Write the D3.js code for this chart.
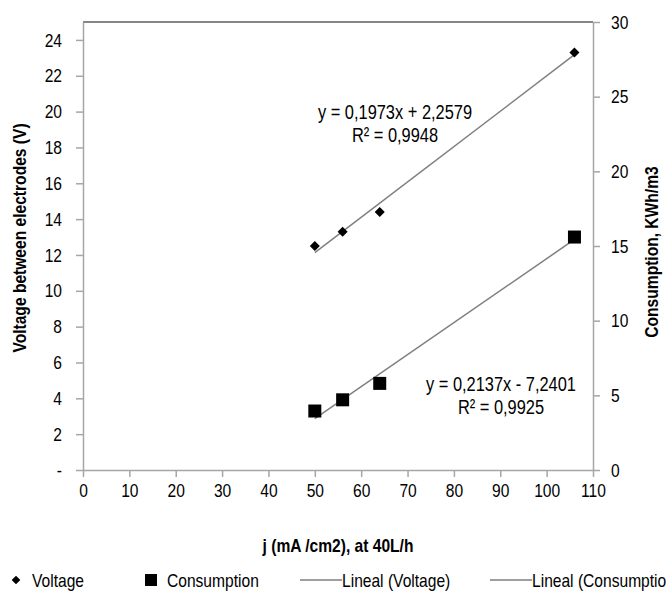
<!DOCTYPE html>
<html>
<head>
<meta charset="utf-8">
<script src="https://cdn.jsdelivr.net/npm/d3@7"></script>
<style>
  body { margin: 0; background: #fff; }
  text { font-family: "Liberation Sans Narrow", "Arial Narrow", "Liberation Sans", sans-serif; fill: #000; }
</style>
</head>
<body>
<script>
// chart data
const currentDensity = [50, 56, 64, 106];          // j (mA/cm2)
const voltage = [12.5, 13.3, 14.4, 23.3];           // V
const consumption = [3.95, 4.7, 5.8, 15.6];         // KWh/m3
const xTicks = [0, 10, 20, 30, 40, 50, 60, 70, 80, 90, 100, 110];
const leftTicks = [0, 2, 4, 6, 8, 10, 12, 14, 16, 18, 20, 22, 24];
const rightTicks = [0, 5, 10, 15, 20, 25, 30];
const eqVoltage = ['y = 0,1973x  + 2,2579', 'R² = 0,9948'];
const eqConsumption = ['y = 0,2137x - 7,2401', 'R² = 0,9925'];

const width = 666;
const height = 599;
const margin = { top: 22, right: 73, bottom: 129, left: 83 };

const svg = d3.select('body')
  .append('svg')
  .attr('width', width)
  .attr('height', height);

const x = d3.scaleLinear().domain([0, 110]).range([margin.left, width - margin.right]);
const yLeft = d3.scaleLinear().domain([0, 25]).range([height - margin.bottom, margin.top]);
const yRight = d3.scaleLinear().domain([0, 30]).range([height - margin.bottom, margin.top]);

const axisColor = '#a6a6a6';
const fontSize = 19;

// the reference uses a narrow font, squeeze the regular one when no narrow face is there
const narrowAvailable = (() => {
  const probe = svg.append('text').attr('font-size', 20).text('Consumption');
  const a = probe.node().getComputedTextLength();
  probe.style('font-family', '"Liberation Sans", sans-serif');
  const b = probe.node().getComputedTextLength();
  probe.remove();
  return a < b * 0.95;
})();

function condense(sel) {
  if (narrowAvailable) return;
  sel.each(function () {
    const len = this.getComputedTextLength();
    d3.select(this)
      .attr('textLength', len * 0.82)
      .attr('lengthAdjust', 'spacingAndGlyphs');
  });
}

// top border of the plot area
svg.append('line')
  .attr('x1', x(0)).attr('x2', x(110))
  .attr('y1', margin.top).attr('y2', margin.top)
  .attr('stroke', '#868686')
  .attr('stroke-width', 2);

// axes
function styleAxis(g) {
  g.selectAll('path').attr('stroke', axisColor).attr('stroke-width', 1.5);
  g.selectAll('line').attr('stroke', axisColor).attr('stroke-width', 1.5);
  g.selectAll('text').attr('font-size', fontSize).attr('fill', '#000').call(condense);
}

svg.append('g')
  .attr('transform', `translate(0, ${yLeft(0)})`)
  .call(d3.axisBottom(x).tickValues(xTicks).tickSize(7).tickSizeOuter(0).tickPadding(7))
  .call(styleAxis);

svg.append('g')
  .attr('transform', `translate(${x(0)}, 0)`)
  .call(d3.axisLeft(yLeft).tickValues(leftTicks).tickSize(7).tickSizeOuter(0).tickPadding(14)
    .tickFormat(d => d === 0 ? '-' : d))
  .call(styleAxis);

svg.append('g')
  .attr('transform', `translate(${x(110)}, 0)`)
  .call(d3.axisRight(yRight).tickValues(rightTicks).tickSize(7).tickSizeOuter(0).tickPadding(11))
  .call(styleAxis);

// least squares trend over the plotted points
function trend(xs, ys) {
  const mx = d3.mean(xs), my = d3.mean(ys);
  const sxy = d3.sum(xs, (v, i) => (v - mx) * (ys[i] - my));
  const sxx = d3.sum(xs, v => (v - mx) * (v - mx));
  const b = sxy / sxx;
  return v => my + b * (v - mx);
}

const xMin = d3.min(currentDensity), xMax = d3.max(currentDensity);
const fitV = trend(currentDensity, voltage);
const fitC = trend(currentDensity, consumption);

svg.append('line')
  .attr('x1', x(xMin)).attr('y1', yLeft(fitV(xMin)))
  .attr('x2', x(xMax)).attr('y2', yLeft(fitV(xMax)))
  .attr('stroke', '#7f7f7f').attr('stroke-width', 1.5);

svg.append('line')
  .attr('x1', x(xMin)).attr('y1', yRight(fitC(xMin)))
  .attr('x2', x(xMax)).attr('y2', yRight(fitC(xMax)))
  .attr('stroke', '#7f7f7f').attr('stroke-width', 1.5);

// markers
svg.selectAll('path.voltage')
  .data(currentDensity)
  .enter()
  .append('path')
  .attr('class', 'voltage')
  .attr('d', d3.symbol(d3.symbolDiamond2, 64))
  .attr('transform', (d, i) => `translate(${x(d)}, ${yLeft(voltage[i])})`)
  .attr('fill', '#000');

svg.selectAll('rect.consumption')
  .data(currentDensity)
  .enter()
  .append('rect')
  .attr('class', 'consumption')
  .attr('x', d => x(d) - 6.5)
  .attr('y', (d, i) => yRight(consumption[i]) - 6.5)
  .attr('width', 13)
  .attr('height', 13)
  .attr('fill', '#000');

// trend equations
function label(txt, cx, cy, size, bold) {
  return svg.append('text')
    .text(txt)
    .attr('x', cx)
    .attr('y', cy)
    .attr('text-anchor', 'middle')
    .attr('font-size', size)
    .attr('font-weight', bold ? 'bold' : 'normal')
    .call(condense);
}

label(eqVoltage[0], 395, 119, 20);
label(eqVoltage[1], 395, 142, 20);
label(eqConsumption[0], 501, 391, 20);
label(eqConsumption[1], 501, 414, 20);

// axis titles
label('Voltage between electrodes (V)', 0, 0, fontSize, true)
  .attr('transform', `translate(26, 238) rotate(-90)`);

label('Consumption, KWh/m3', 0, 0, fontSize, true)
  .attr('transform', `translate(658, 252) rotate(-90)`);

label('j (mA /cm2), at 40L/h', (x(0) + x(110)) / 2, 552, fontSize, true);

// legend
const legend = svg.append('g').attr('transform', 'translate(0, 587)');

function legendText(txt, lx) {
  legend.append('text')
    .attr('x', lx).attr('y', 0)
    .attr('font-size', fontSize)
    .text(txt)
    .call(condense);
}

legend.append('path')
  .attr('d', d3.symbol(d3.symbolDiamond2, 48))
  .attr('transform', 'translate(16, -7)')
  .attr('fill', '#000');
legendText('Voltage', 32);

legend.append('rect')
  .attr('x', 145).attr('y', -13).attr('width', 12).attr('height', 12)
  .attr('fill', '#000');
legendText('Consumption', 167);

legend.append('line')
  .attr('x1', 300).attr('x2', 342).attr('y1', -7).attr('y2', -7)
  .attr('stroke', '#7f7f7f').attr('stroke-width', 1.5);
legendText('Lineal (Voltage)', 342);

legend.append('line')
  .attr('x1', 490).attr('x2', 532).attr('y1', -7).attr('y2', -7)
  .attr('stroke', '#7f7f7f').attr('stroke-width', 1.5);
legendText('Lineal (Consumption)', 532);
</script>
</body>
</html>
